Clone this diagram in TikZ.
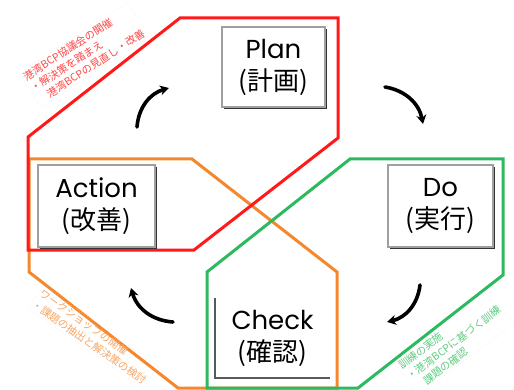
\documentclass[tikz,border=0pt]{standalone}
\usepackage{fontspec}
\setmainfont{Poppins}
\newfontfamily\jp{Noto Sans CJK JP}
\usetikzlibrary{arrows.meta,shadows}
\definecolor{zred}{RGB}{255,25,25}
\definecolor{zgreen}{RGB}{45,185,95}
\definecolor{zorange}{RGB}{245,135,45}
\definecolor{tred}{RGB}{255,70,70}
\definecolor{tgreen}{RGB}{95,205,130}
\definecolor{torange}{RGB}{247,165,100}
\begin{document}
\begin{tikzpicture}[x=1pt,y=-1pt,
  zone/.style={line width=3pt,line join=miter},
  boxtext/.style={align=center,font=\fontsize{26}{32}\selectfont,inner sep=0pt},
  pdca/.style={boxtext,draw=gray!75,line width=1.3pt,fill=white,
    drop shadow={shadow xshift=1.6pt,shadow yshift=-1.6pt,fill=black!80,opacity=1}},
  note/.style={align=left,font=\jp\fontsize{10.5}{13.5}\selectfont,
    draw=gray!25,dotted,inner sep=2pt},
  cyc/.style={line width=3.6pt,line cap=round,-{Stealth[length=9pt,width=10pt]}}
]
\useasboundingbox[fill=white] (0,0) rectangle (514,390);
% zones
\draw[zone,zorange] (29,159) -- (192,159) -- (337,272) -- (337,388) -- (178,388) -- (29,272) -- cycle;
\draw[zone,zgreen] (207,272) -- (350,159) -- (503,159) -- (503,275) -- (358,388) -- (207,388) -- cycle;
\draw[zone,zred] (28,137) -- (180,18) -- (338,18) -- (338,138) -- (194,250) -- (28,250) -- cycle;
% boxes
\node[pdca,minimum width=103pt,minimum height=80pt] (plan) at (273.5,67) {Plan\\{\jp (計画)}};
\node[pdca,minimum width=117pt,minimum height=82pt] (act) at (96.5,206) {Action\\{\jp (改善)}};
\node[pdca,minimum width=105pt,minimum height=82pt] (do) at (440.5,206) {Do\\{\jp (実行)}};
\node[boxtext,minimum width=115pt,minimum height=80pt] (chk) at (272.5,338) {Check\\{\jp (確認)}};
\draw[gray!70!black,line width=2.2pt] (chk.north west) -- (chk.south west) -- (chk.south east);
% cycle arrows
\coordinate (a1) at (137,127); \coordinate (a2) at (169,88);
\coordinate (b1) at (385,87);  \coordinate (b2) at (423,124);
\coordinate (c1) at (420,285); \coordinate (c2) at (387,322);
\coordinate (d1) at (173,322); \coordinate (d2) at (131,288);
\draw[cyc] (a1) to[bend left=35] (a2);
\draw[cyc] (b1) to[bend left=35] (b2);
\draw[cyc] (c1) to[bend left=35] (c2);
\draw[cyc] (d1) to[bend left=35] (d2);
% notes
\node[note,text=tred,rotate=33] (nred) at (84,55) {港湾BCP協議会の開催\\・解決策を踏まえ\\　港湾BCPの見直し・改善};
\node[note,text=torange,rotate=-35] (nor) at (93,337) {ワークショップの開催\\・課題の抽出と解決策の検討};
\node[note,text=tgreen,rotate=37] (ngr) at (454,343) {訓練の実施\\・港湾BCPに基づく訓練\\　課題の確認};
\end{tikzpicture}
\end{document}
